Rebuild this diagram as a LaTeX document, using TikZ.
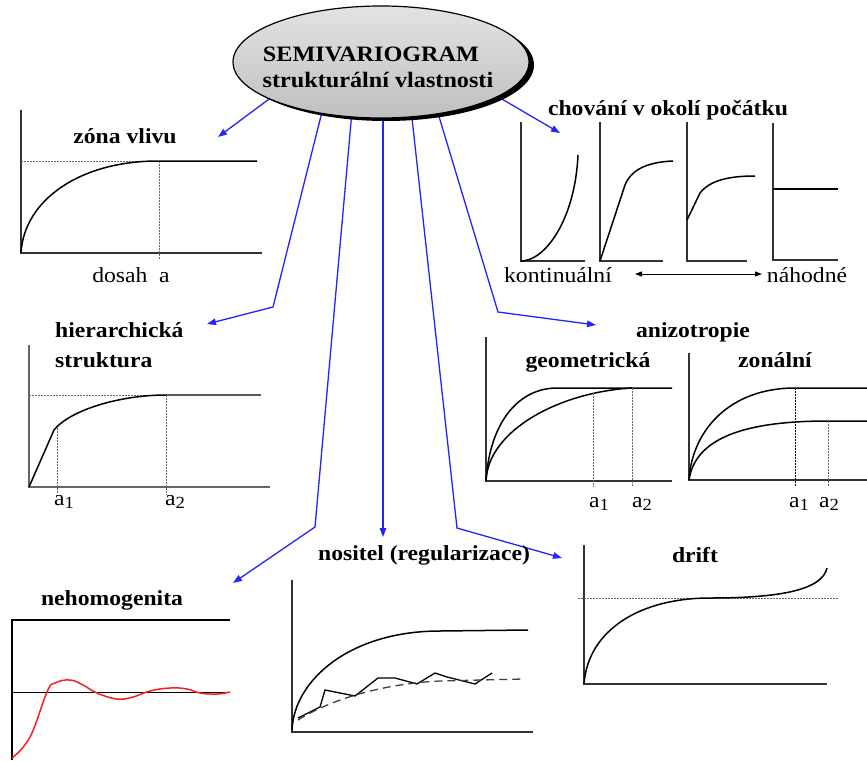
\documentclass[tikz,border=0pt]{standalone}
\usepackage{fontspec}
\setmainfont{Liberation Serif}[FakeStretch=1.1]
\usetikzlibrary{arrows.meta,shapes.geometric,shadows}
\definecolor{arrowblue}{RGB}{35,35,250}
\definecolor{wave}{RGB}{250,30,30}
\newcommand{\asub}[1]{a\raisebox{-3pt}{\fontsize{17}{17}\selectfont #1}}
\tikzset{
  conn/.style={draw=arrowblue, line width=1.3pt, -{Triangle[length=9pt,width=6.5pt]}},
  axis/.style={draw=black!80, line width=1.4pt},
  curve/.style={draw=black, line width=1.5pt},
  guide/.style={draw=black!60, line width=0.8pt, dash pattern=on 1.5pt off 1.5pt},
  ttl/.style={font=\bfseries\fontsize{21.5}{24}\selectfont, anchor=base, inner sep=0pt},
  lbl/.style={font=\fontsize{21.5}{24}\selectfont, anchor=base, inner sep=0pt},
}
\begin{document}
\begin{tikzpicture}[x=1pt,y=-1pt]
\path[use as bounding box] (0,0) rectangle (867,760);

% ---------- connectors (drawn first, ellipse covers their start) ----------
\coordinate (s1) at (284,88);  \coordinate (e1) at (218,137);
\coordinate (s2) at (325,100); \coordinate (b2) at (273,307); \coordinate (e2) at (207,324);
\coordinate (s3) at (353,100); \coordinate (b3) at (315,527); \coordinate (e3) at (233,583);
\coordinate (s4) at (383,100); \coordinate (e4) at (383,537);
\coordinate (s5) at (410,100); \coordinate (b5) at (457,528); \coordinate (e5) at (562,558);
\coordinate (s6) at (434,100); \coordinate (b6) at (498,312); \coordinate (e6) at (596,325);
\coordinate (s7) at (495,95);  \coordinate (e7) at (560,133);
\draw[conn] (s1) -- (e1);
\draw[conn] (s2) -- (b2) -- (e2);
\draw[conn] (s3) -- (b3) -- (e3);
\draw[conn] (s4) -- (e4);
\draw[conn] (s5) -- (b5) -- (e5);
\draw[conn] (s6) -- (b6) -- (e6);
\draw[conn] (s7) -- (e7);

% ---------- central ellipse ----------
\node[ellipse, draw=black, line width=1.2pt, minimum width=296pt, minimum height=112pt,
      top color=gray!22, middle color=gray!4, bottom color=gray!50,
      drop shadow={shadow xshift=5pt, shadow yshift=-3pt, fill=black, opacity=1}] (sv) at (381,62) {};
\node[ttl, font=\bfseries\fontsize{22}{24}\selectfont] (sv1) at (371,62) {SEMIVARIOGRAM};
\node[ttl, font=\bfseries\fontsize{22}{24}\selectfont] (sv2) at (378,88) {strukturální vlastnosti};

% ---------- zona vlivu ----------
\node[ttl] (zv) at (125,143) {zóna vlivu};
\draw[axis] (21,110) -- (21,253) -- (262,253);
\draw[guide] (21,161) -- (158,161);
\draw[guide] (159,161) -- (159,260);
\draw[curve] (21,253) .. controls (24,200) and (80,161) .. (158,161) -- (257,161);
\node[lbl] (dos) at (131,282) {dosah\ \ a};

% ---------- chovani v okoli pocatku ----------
\node[ttl] (ch) at (668,115) {chování v okolí počátku};
\draw[axis] (521,122) -- (521,261) -- (585,261);
\draw[curve] (521,261) .. controls (545,261) and (575,220) .. (578,155);
\draw[axis] (600,122) -- (600,261) -- (663,261);
\draw[curve] (600,261) -- (625,185) .. controls (632,168) and (650,162) .. (673,161);
\draw[axis] (687,122) -- (687,261) -- (747,261);
\draw[curve] (687,220) -- (700,193) .. controls (710,180) and (730,176) .. (755,176);
\draw[axis] (773,123) -- (773,260) -- (838,260);
\draw[curve] (773,189) -- (838,189);
\node[lbl] (kont) at (558,282) {kontinuální};
\node[lbl] (nah) at (807,282) {náhodné};
\coordinate (da1) at (635,274); \coordinate (da2) at (762,274);
\draw[line width=1pt, {Triangle[length=7pt,width=5pt]}-{Triangle[length=7pt,width=5pt]}] (da1) -- (da2);

% ---------- hierarchicka struktura ----------
\node[ttl, anchor=base west] (hi1) at (55,337) {hierarchická};
\node[ttl, anchor=base west] (hi2) at (55,367) {struktura};
\draw[axis, draw=black!60] (29,345) -- (29,487) -- (270,487);
\draw[guide] (29,395) -- (166,395);
\draw[guide] (57,428) -- (57,493);
\draw[guide] (166,395) -- (166,495);
\draw[curve] (29,487) -- (54,430) .. controls (70,410) and (120,395) .. (166,395);
\draw[curve, draw=black!65] (166,395) -- (261,395);
\node[lbl, anchor=base west] (ha1) at (54,505) {\asub{1}};
\node[lbl, anchor=base west] (ha2) at (165,505) {\asub{2}};

% ---------- anizotropie ----------
\node[ttl] (an) at (693,337) {anizotropie};
\node[ttl] (geo) at (588,367) {geometrická};
\node[ttl] (zon) at (775,367) {zonální};
\draw[axis] (486,337) -- (486,481) -- (672,481);
\draw[curve] (486,481) .. controls (490,420) and (520,388) .. (557,388) -- (672,388);
\draw[curve] (486,481) .. controls (488,430) and (560,392) .. (632,388);
\draw[guide] (593,393) -- (593,487);
\draw[guide] (632,388) -- (632,487);
\node[lbl, anchor=base west] (ga1) at (589,507) {\asub{1}};
\node[lbl, anchor=base west] (ga2) at (632,507) {\asub{2}};
\draw[axis] (689,353) -- (689,480) -- (867,480);
\draw[curve] (689,480) .. controls (692,430) and (730,388) .. (795,388) -- (867,388);
\draw[curve] (689,480) .. controls (695,440) and (740,421) .. (828,421) -- (867,421);
\draw[guide, draw=black] (795,388) -- (795,487);
\draw[guide] (828,421) -- (828,487);
\node[lbl, anchor=base west] (za1) at (789,507) {\asub{1}};
\node[lbl, anchor=base west] (za2) at (819,507) {\asub{2}};

% ---------- nehomogenita ----------
\node[ttl] (neh) at (112,605) {nehomogenita};
\draw[line width=1.2pt] (12,760) -- (12,620) -- (230,620);
\draw[line width=1pt] (12,692) -- (230,692);
\draw[wave, line width=1.5pt] plot[smooth, tension=0.7] coordinates {(12,758) (30,737) (47,692) (55,683) (70,680) (83,685) (97,693) (117,699) (133,697) (150,691) (170,688) (187,689) (200,693) (217,694) (230,692)};

% ---------- nositel ----------
\node[ttl] (nos) at (424,560) {nositel (regularizace)};
\draw[axis] (292,580) -- (292,732) -- (533,732);
\draw[curve] (292,730) .. controls (294,680) and (350,631) .. (440,631) -- (528,630);
\draw[line width=1.3pt] (298,718) -- (320,707) -- (325,690) -- (355,696) -- (378,678) -- (395,678) -- (417,684) -- (435,673) -- (447,677) -- (475,684) -- (492,673);
\draw[line width=1.3pt, draw=black!75, dash pattern=on 8pt off 5pt] (298,720) .. controls (330,700) and (380,684) .. (440,681) -- (523,679);

% ---------- drift ----------
\node[ttl] (dr) at (695,562) {drift};
\draw[axis] (584,545) -- (584,684) -- (827,684);
\draw[guide] (578,598) -- (838,598);
\draw[curve] (584,684) .. controls (588,630) and (640,598) .. (710,598) .. controls (780,598) and (822,590) .. (827,568);
\end{tikzpicture}
\end{document}
